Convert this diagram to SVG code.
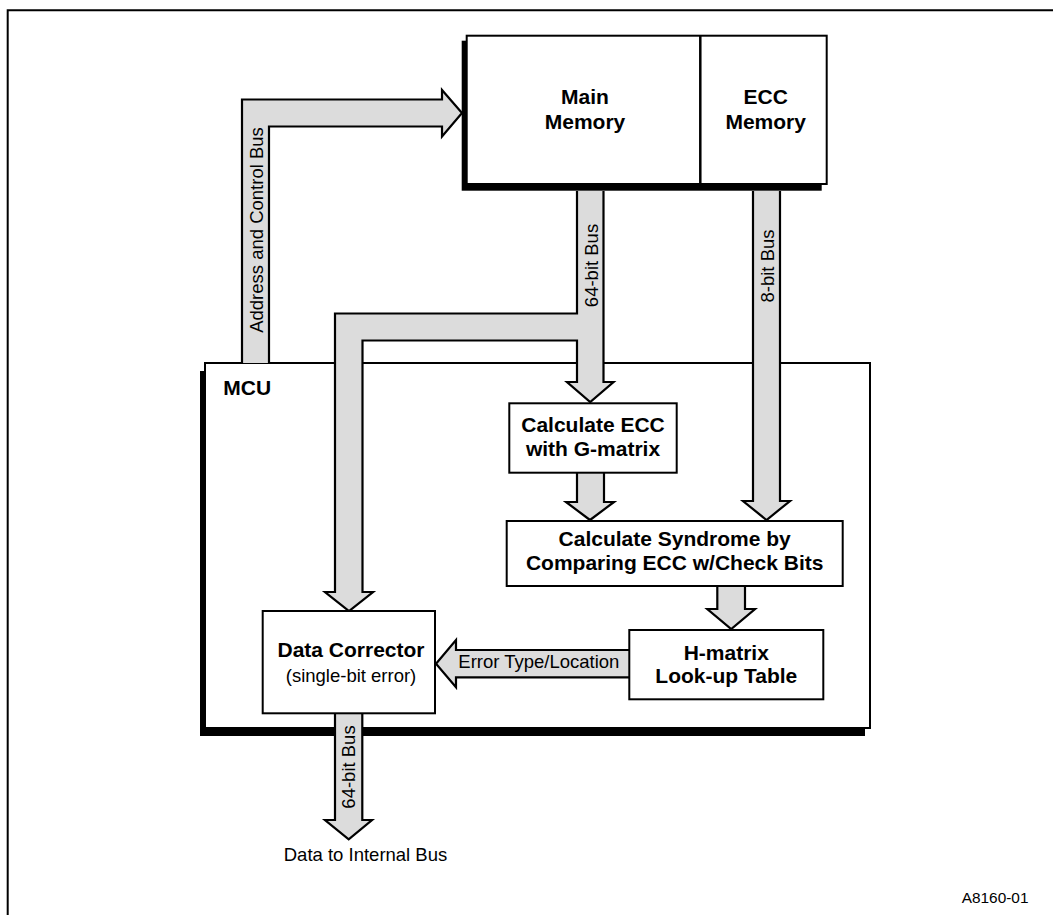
<svg xmlns="http://www.w3.org/2000/svg" width="1053" height="915" viewBox="0 0 1053 915">
<style>
.box{fill:#fff;stroke:#000;stroke-width:2}
.shadow{fill:#000}
.bus{fill:#dcdcdc;stroke:#000;stroke-width:2.2;stroke-linejoin:miter}
.b{font-family:"Liberation Sans",Arial,sans-serif;font-weight:bold;font-size:21px;fill:#000;text-anchor:middle}
.r{font-family:"Liberation Sans",Arial,sans-serif;font-size:18.5px;fill:#000}
.m{text-anchor:middle}
</style>
<rect width="1053" height="915" fill="#fff"/>
<g id="frame">
<path d="M7.7,915 V10.3 H1053" fill="none" stroke="#000" stroke-width="2"/>
</g>
<g id="main-memory">
<rect class="shadow" x="461.7" y="40.7" width="360" height="150"/>
<rect class="box" x="466.7" y="35.7" width="360" height="148.3"/>
<line x1="700.3" y1="35.7" x2="700.3" y2="184" stroke="#000" stroke-width="2.5"/>
<text class="b" x="585" y="104">Main</text>
<text class="b" x="585" y="129">Memory</text>
</g>
<g id="ecc-memory">
<text class="b" x="765.7" y="104">ECC</text>
<text class="b" x="765.7" y="129">Memory</text>
</g>
<g id="mcu">
<rect class="shadow" x="200" y="371" width="665" height="365"/>
<rect class="box" x="205" y="363" width="665" height="365"/>
<text class="b" x="223.3" y="395" style="text-anchor:start">MCU</text>
</g>
<g id="connectors">
<path class="bus" d="M242,363 V99.5 H442 V90 L462,113 L442,136.5 V126.5 H269 V363"/>
<text class="r m" transform="translate(262.5,230) rotate(-90)">Address and Control Bus</text>
<path class="bus" d="M577,191 V313.5 H335 V592 H325 L349,611 L373,592 H362.5 V340.5 H577 V382 H567 L590.2,402 L613.5,382 H603.5 V191"/>
<text class="r m" transform="translate(598,265.5) rotate(-90)">64-bit Bus</text>
<path class="bus" d="M753,191 V501 H743 L766.5,520 L790,501 H780 V191"/>
<text class="r m" transform="translate(773.5,266) rotate(-90)">8-bit Bus</text>
<path class="bus" d="M577,473 V502 H566 L590,520 L614,502 H604 V473"/>
<path class="bus" d="M717.3,586 V609 H707.3 L731.2,629 L755,609 H745 V586"/>
<path class="bus" d="M629.3,650 H456 V640 L436,663.7 L456,687.3 V677.3 H629.3"/>
<text class="r" x="458.3" y="668">Error Type/Location</text>
<path class="bus" d="M335,713.3 V820 H325 L348.7,839.3 L372,820 H362.3 V713.3"/>
<text class="r m" transform="translate(355,767) rotate(-90)">64-bit Bus</text>
</g>
<g id="calc-ecc">
<rect class="box" x="509.3" y="403.3" width="167.4" height="69.4"/>
<text class="b" x="593" y="431.7">Calculate ECC</text>
<text class="b" x="593" y="456">with G-matrix</text>
</g>
<g id="syndrome">
<rect class="box" x="506.7" y="521" width="336" height="65"/>
<text class="b" x="674.7" y="546">Calculate Syndrome by</text>
<text class="b" x="674.7" y="570">Comparing ECC w/Check Bits</text>
</g>
<g id="h-matrix">
<rect class="box" x="629.3" y="630" width="194" height="69.3"/>
<text class="b" x="726.3" y="660">H-matrix</text>
<text class="b" x="726.3" y="683.3">Look-up Table</text>
</g>
<g id="data-corrector">
<rect class="box" x="262.7" y="611" width="172.3" height="102.3"/>
<text class="b" x="351" y="656.7">Data Corrector</text>
<text class="r m" x="351" y="681.7">(single-bit error)</text>
</g>
<g id="output">
<text class="r m" x="365.5" y="861">Data to Internal Bus</text>
</g>
<g id="figure-id">
<text class="r" x="961.7" y="902.7" style="font-size:15.4px">A8160-01</text>
</g>
</svg>
